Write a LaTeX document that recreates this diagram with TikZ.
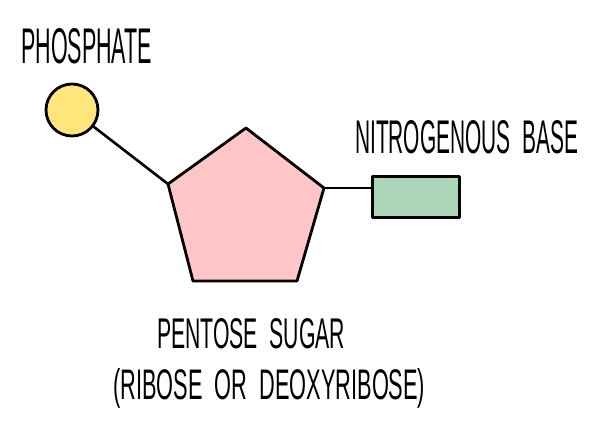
\documentclass[tikz,border=0pt]{standalone}
\usepackage{fontspec}
\setmainfont{Liberation Sans}
\usepackage{graphicx}
\definecolor{phosY}{HTML}{FFE57C}
\definecolor{sugarP}{HTML}{FFC5C7}
\definecolor{baseG}{HTML}{ADD6B9}
\tikzset{
  outl/.style={draw=black, line width=2.8pt, line join=round},
  link/.style={draw=black, line width=2.6pt},
  lbl/.style={inner sep=0pt, anchor=base west, text=black}
}
\begin{document}
\begin{tikzpicture}[x=1pt,y=-1pt]
\useasboundingbox (0,0) rectangle (597,432);
% pentagon vertices
\coordinate (pt) at (246,128);
\coordinate (pr) at (324,188);
\coordinate (pbr) at (297,281);
\coordinate (pbl) at (193,281);
\coordinate (pl) at (168,184);
\path[outl, fill=sugarP] (pt) -- (pr) -- (pbr) -- (pbl) -- (pl) -- cycle;
\node[outl, circle, fill=phosY, minimum size=52pt, inner sep=0pt] (phos) at (72,110) {};
\node[outl, rectangle, fill=baseG, minimum width=87pt, minimum height=41pt, inner sep=0pt] (base) at (416,197) {};
\draw[link] (phos) -- (pl);
\draw[link] (pr) -- (pr -| base.west);
\node[lbl] (tphos) at (21,63) {\resizebox{131pt}{35pt}{PHOSPHATE}};
\node[lbl] (tbase) at (355,153) {\resizebox{223pt}{33pt}{NITROGENOUS\ \ BASE}};
\node[lbl] (tsug) at (157,348) {\resizebox{188pt}{30pt}{PENTOSE\ \ SUGAR}};
\node[lbl] (trib) at (113,399) {\resizebox{312pt}{31pt}{(RIBOSE\ \ OR\ \ DEOXYRIBOSE)}};
\end{tikzpicture}
\end{document}
